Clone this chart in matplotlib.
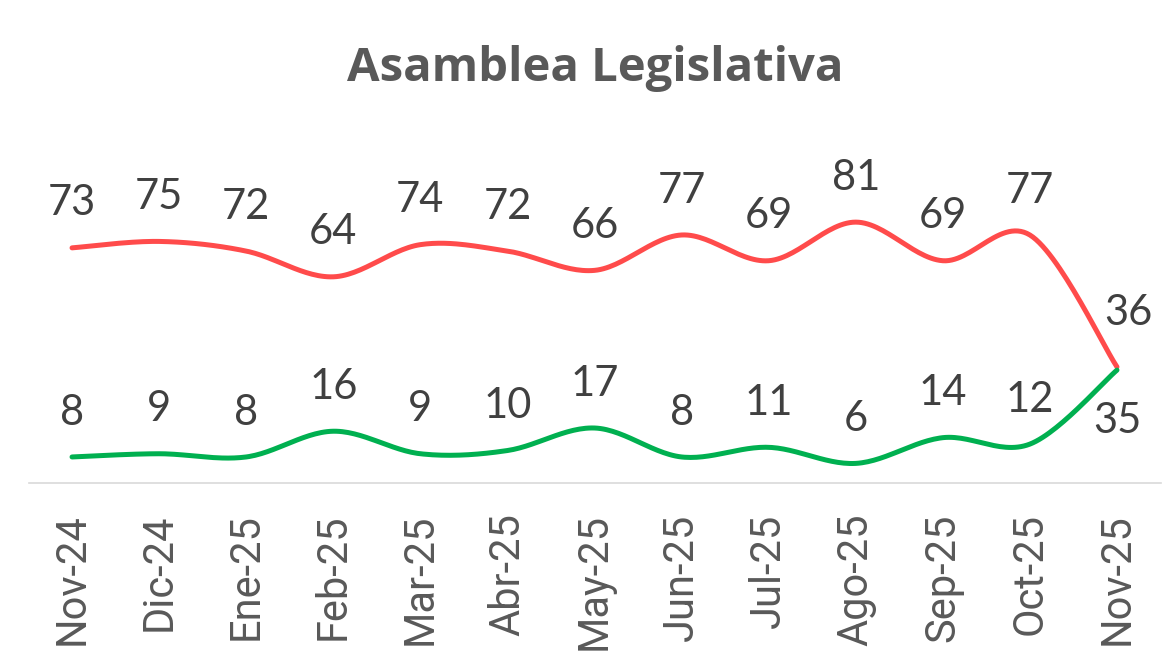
import matplotlib.pyplot as plt
import numpy as np

# ---- data ----
months = ["Nov-24", "Dic-24", "Ene-25", "Feb-25", "Mar-25", "Abr-25", "May-25",
          "Jun-25", "Jul-25", "Ago-25", "Sep-25", "Oct-25", "Nov-25"]
red_vals = [73, 75, 72, 64, 74, 72, 66, 77, 69, 81, 69, 77, 36]
green_vals = [8, 9, 8, 16, 9, 10, 17, 8, 11, 6, 14, 12, 35]

RED = "#FF4B4B"
GREEN = "#00B050"
LABEL_C = "#404040"
TICK_C = "#595959"


def smooth(xs, ys, n=30):
    # Excel-like smoothed line: cubic bezier with catmull-rom control points
    xs = np.asarray(xs, float)
    ys = np.asarray(ys, float)
    px = np.concatenate([[xs[0]], xs, [xs[-1]]])
    py = np.concatenate([[ys[0]], ys, [ys[-1]]])
    ox, oy = [], []
    t = np.linspace(0, 1, n)
    for i in range(len(xs) - 1):
        p0 = np.array([px[i + 1], py[i + 1]])
        p3 = np.array([px[i + 2], py[i + 2]])
        c1 = p0 + (np.array([px[i + 2], py[i + 2]]) - np.array([px[i], py[i]])) / 6
        c2 = p3 - (np.array([px[i + 3], py[i + 3]]) - np.array([px[i + 1], py[i + 1]])) / 6
        b = ((1 - t) ** 3)[:, None] * p0 + (3 * (1 - t) ** 2 * t)[:, None] * c1 \
            + (3 * (1 - t) * t ** 2)[:, None] * c2 + (t ** 3)[:, None] * p3
        ox.extend(b[:, 0])
        oy.extend(b[:, 1])
    return ox, oy


fig = plt.figure(figsize=(11.72, 6.57), dpi=100)
W, H = 1172, 657
ax = fig.add_axes([28.5 / W, 1 - 482.7 / H, (1160.5 - 28.5) / W, (482.7 - 161) / H])

x = np.arange(len(months))
rx, ry = smooth(x, red_vals)
gx, gy = smooth(x, green_vals)
ax.plot(rx, ry, color=RED, lw=3.6, solid_capstyle="round", zorder=3)
ax.plot(gx, gy, color=GREEN, lw=3.6, solid_capstyle="round", zorder=3)

ax.set_xlim(-0.5, len(months) - 0.5)
ax.set_ylim(0, 100)

lab_font = dict(family="Lato", fontsize=30, color=LABEL_C, ha="center", va="center")
for i, v in enumerate(red_vals):
    off = (0, 32)
    if i == len(red_vals) - 1:
        off = (8, 39)
    ax.annotate(str(v), (i, v), xytext=off, textcoords="offset points", **lab_font)
for i, v in enumerate(green_vals):
    off = (0, 32)
    if i == len(green_vals) - 1:
        off = (0, -37)
    ax.annotate(str(v), (i, v), xytext=off, textcoords="offset points", **lab_font)

for s in ["top", "right", "left"]:
    ax.spines[s].set_visible(False)
ax.spines["bottom"].set_color("#D9D9D9")
ax.spines["bottom"].set_linewidth(1.2)
ax.set_yticks([])
ax.set_xticks(x)
ax.set_xticklabels(months, rotation=90, fontfamily="Roboto", fontsize=30, color=TICK_C)
ax.tick_params(axis="x", length=0, pad=22)

fig.text(595 / W, 1 - 68 / H, "Asamblea Legislativa", ha="center", va="center",
         fontfamily="Open Sans", fontweight="bold", fontsize=34, color=TICK_C)

fig.savefig("out.png", dpi=100)
